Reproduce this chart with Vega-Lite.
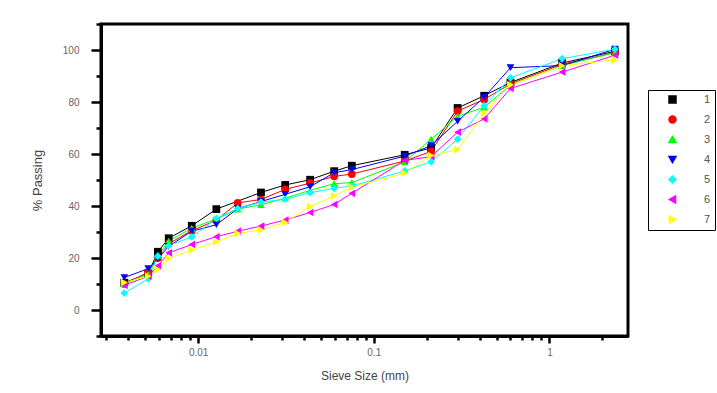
{
  "$schema": "https://vega.github.io/schema/vega-lite/v6.json",
  "width": 527,
  "height": 312,
  "autosize": {"type": "none"},
  "padding": {"left": 101, "top": 24, "right": 89, "bottom": 57},
  "background": "white",
  "config": {
    "view": {"stroke": "black", "strokeWidth": 3},
    "font": "Liberation Sans"
  },
  "data": {
    "values": [
      {"s": "1", "x": 0.0038, "y": 10.5}, {"s": "1", "x": 0.0052, "y": 14}, {"s": "1", "x": 0.0059, "y": 22.4}, {"s": "1", "x": 0.0068, "y": 27.6}, {"s": "1", "x": 0.0092, "y": 32.4}, {"s": "1", "x": 0.0127, "y": 38.8}, {"s": "1", "x": 0.0228, "y": 45.2}, {"s": "1", "x": 0.0313, "y": 48.1}, {"s": "1", "x": 0.0434, "y": 50.1}, {"s": "1", "x": 0.0595, "y": 53.4}, {"s": "1", "x": 0.075, "y": 55.5}, {"s": "1", "x": 0.15, "y": 59.7}, {"s": "1", "x": 0.212, "y": 62.3}, {"s": "1", "x": 0.3, "y": 77.7}, {"s": "1", "x": 0.425, "y": 82.4}, {"s": "1", "x": 0.6, "y": 87.5}, {"s": "1", "x": 1.18, "y": 95}, {"s": "1", "x": 2.36, "y": 99.5},
      {"s": "2", "x": 0.0038, "y": 10}, {"s": "2", "x": 0.0052, "y": 14.5}, {"s": "2", "x": 0.0059, "y": 20}, {"s": "2", "x": 0.0068, "y": 25.5}, {"s": "2", "x": 0.0092, "y": 30.5}, {"s": "2", "x": 0.0127, "y": 34.5}, {"s": "2", "x": 0.0168, "y": 41.2}, {"s": "2", "x": 0.0228, "y": 42.5}, {"s": "2", "x": 0.0313, "y": 46.4}, {"s": "2", "x": 0.0434, "y": 48.8}, {"s": "2", "x": 0.0595, "y": 51.4}, {"s": "2", "x": 0.075, "y": 52.3}, {"s": "2", "x": 0.15, "y": 57.3}, {"s": "2", "x": 0.212, "y": 61}, {"s": "2", "x": 0.3, "y": 76.5}, {"s": "2", "x": 0.425, "y": 81}, {"s": "2", "x": 0.6, "y": 87}, {"s": "2", "x": 1.18, "y": 94.5}, {"s": "2", "x": 2.36, "y": 99},
      {"s": "3", "x": 0.0038, "y": 10}, {"s": "3", "x": 0.0052, "y": 14}, {"s": "3", "x": 0.0059, "y": 21}, {"s": "3", "x": 0.0068, "y": 26.5}, {"s": "3", "x": 0.0092, "y": 31.5}, {"s": "3", "x": 0.0127, "y": 35}, {"s": "3", "x": 0.0168, "y": 38.8}, {"s": "3", "x": 0.0228, "y": 40.5}, {"s": "3", "x": 0.0313, "y": 43}, {"s": "3", "x": 0.0434, "y": 46}, {"s": "3", "x": 0.0595, "y": 48.6}, {"s": "3", "x": 0.075, "y": 49}, {"s": "3", "x": 0.15, "y": 57}, {"s": "3", "x": 0.212, "y": 65.7}, {"s": "3", "x": 0.3, "y": 74.5}, {"s": "3", "x": 0.425, "y": 78}, {"s": "3", "x": 0.6, "y": 86.5}, {"s": "3", "x": 1.18, "y": 94}, {"s": "3", "x": 2.36, "y": 99},
      {"s": "4", "x": 0.0038, "y": 12.5}, {"s": "4", "x": 0.0052, "y": 15.9}, {"s": "4", "x": 0.0059, "y": 19.7}, {"s": "4", "x": 0.0068, "y": 24.5}, {"s": "4", "x": 0.0092, "y": 30.3}, {"s": "4", "x": 0.0127, "y": 32.8}, {"s": "4", "x": 0.0168, "y": 39}, {"s": "4", "x": 0.0228, "y": 41.7}, {"s": "4", "x": 0.0313, "y": 44.5}, {"s": "4", "x": 0.0434, "y": 47.4}, {"s": "4", "x": 0.0595, "y": 52.8}, {"s": "4", "x": 0.075, "y": 54}, {"s": "4", "x": 0.15, "y": 59.2}, {"s": "4", "x": 0.212, "y": 63.2}, {"s": "4", "x": 0.3, "y": 72.6}, {"s": "4", "x": 0.425, "y": 81.8}, {"s": "4", "x": 0.6, "y": 93.2}, {"s": "4", "x": 1.18, "y": 94}, {"s": "4", "x": 2.36, "y": 100.3},
      {"s": "5", "x": 0.0038, "y": 6.5}, {"s": "5", "x": 0.0052, "y": 12}, {"s": "5", "x": 0.0059, "y": 20.7}, {"s": "5", "x": 0.0068, "y": 24.8}, {"s": "5", "x": 0.0092, "y": 28.1}, {"s": "5", "x": 0.0127, "y": 35.2}, {"s": "5", "x": 0.0168, "y": 39}, {"s": "5", "x": 0.0228, "y": 41.5}, {"s": "5", "x": 0.0313, "y": 42.6}, {"s": "5", "x": 0.0434, "y": 45.1}, {"s": "5", "x": 0.0595, "y": 46.8}, {"s": "5", "x": 0.075, "y": 47.7}, {"s": "5", "x": 0.15, "y": 53.5}, {"s": "5", "x": 0.212, "y": 57}, {"s": "5", "x": 0.3, "y": 65.7}, {"s": "5", "x": 0.425, "y": 78.6}, {"s": "5", "x": 0.6, "y": 89.3}, {"s": "5", "x": 1.18, "y": 96.7}, {"s": "5", "x": 2.36, "y": 100.3},
      {"s": "6", "x": 0.0038, "y": 9.5}, {"s": "6", "x": 0.0052, "y": 13}, {"s": "6", "x": 0.0059, "y": 17}, {"s": "6", "x": 0.0068, "y": 22}, {"s": "6", "x": 0.0092, "y": 25.2}, {"s": "6", "x": 0.0127, "y": 28.2}, {"s": "6", "x": 0.0168, "y": 30.3}, {"s": "6", "x": 0.0228, "y": 32.3}, {"s": "6", "x": 0.0313, "y": 34.6}, {"s": "6", "x": 0.0434, "y": 37.5}, {"s": "6", "x": 0.0595, "y": 40.6}, {"s": "6", "x": 0.075, "y": 44.9}, {"s": "6", "x": 0.15, "y": 57.5}, {"s": "6", "x": 0.212, "y": 59}, {"s": "6", "x": 0.3, "y": 68.4}, {"s": "6", "x": 0.425, "y": 73.5}, {"s": "6", "x": 0.6, "y": 85.2}, {"s": "6", "x": 1.18, "y": 91.5}, {"s": "6", "x": 2.36, "y": 98},
      {"s": "7", "x": 0.0038, "y": 10.6}, {"s": "7", "x": 0.0052, "y": 13}, {"s": "7", "x": 0.0059, "y": 15.6}, {"s": "7", "x": 0.0068, "y": 19.8}, {"s": "7", "x": 0.0092, "y": 23.1}, {"s": "7", "x": 0.0127, "y": 26.2}, {"s": "7", "x": 0.0168, "y": 29.5}, {"s": "7", "x": 0.0228, "y": 30.8}, {"s": "7", "x": 0.0313, "y": 33.7}, {"s": "7", "x": 0.0434, "y": 39.8}, {"s": "7", "x": 0.0595, "y": 43.9}, {"s": "7", "x": 0.075, "y": 47.3}, {"s": "7", "x": 0.15, "y": 52.6}, {"s": "7", "x": 0.212, "y": 59.4}, {"s": "7", "x": 0.3, "y": 61.7}, {"s": "7", "x": 0.425, "y": 75.6}, {"s": "7", "x": 0.6, "y": 86.6}, {"s": "7", "x": 1.18, "y": 93.9}, {"s": "7", "x": 2.36, "y": 96.2}
    ]
  },
  "encoding": {
    "x": {
      "field": "x", "type": "quantitative",
      "scale": {"type": "log", "domain": [0.0028, 2.8], "nice": false},
      "axis": {
        "title": "Sieve Size (mm)",
        "values": [0.003, 0.004, 0.005, 0.006, 0.007, 0.008, 0.009, 0.01, 0.02, 0.03, 0.04, 0.05, 0.06, 0.07, 0.08, 0.09, 0.1, 0.2, 0.3, 0.4, 0.5, 0.6, 0.7, 0.8, 0.9, 1, 2],
        "labelExpr": "datum.value == 0.01 || datum.value == 0.1 || datum.value == 1 ? format(datum.value, '~g') : ''",
        "grid": false,
        "domainColor": "black", "domainWidth": 3,
        "tickColor": "black", "tickWidth": 2.5,
        "tickSize": {"condition": {"test": "datum.value == 0.01 || datum.value == 0.1 || datum.value == 1", "value": 7}, "value": 4},
        "labelFontSize": 10, "labelColor": "#666", "labelPadding": 4, "labelFlush": false,
        "titleFontSize": 12, "titleFontWeight": "normal", "titleColor": "#444", "titlePadding": 13
      }
    },
    "y": {
      "field": "y", "type": "quantitative",
      "scale": {"domain": [-10, 110], "nice": false, "zero": false},
      "axis": {
        "title": "% Passing",
        "values": [-10, 0, 10, 20, 30, 40, 50, 60, 70, 80, 90, 100, 110],
        "labelExpr": "datum.value >= 0 && datum.value <= 100 && datum.value % 20 == 0 ? datum.label : ''",
        "grid": false,
        "domainColor": "black", "domainWidth": 3,
        "tickColor": "black", "tickWidth": 2.5,
        "tickSize": {"condition": {"test": "datum.value >= 0 && datum.value <= 100 && datum.value % 20 == 0", "value": 10}, "value": 5},
        "labelFontSize": 10, "labelColor": "#666", "labelPadding": 12, "labelFlush": false,
        "titleFontSize": 13, "titleFontWeight": "normal", "titleColor": "#444", "titlePadding": 18
      }
    },
    "color": {
      "field": "s", "type": "nominal",
      "scale": {"domain": ["1", "2", "3", "4", "5", "6", "7"], "range": ["#000000", "#ff0000", "#00ff00", "#0000ff", "#00ffff", "#ff00ff", "#ffff00"]},
      "legend": {
        "title": null, "orient": "none", "legendX": 547, "legendY": 66,
        "strokeColor": "black", "padding": 4,
        "symbolSize": 49, "symbolOffset": 15, "labelOffset": 26, "rowPadding": 7,
        "labelFontSize": 11, "labelColor": "#555"
      }
    }
  },
  "layer": [
    {
      "mark": {"type": "line", "strokeWidth": 1}
    },
    {
      "mark": {"type": "point", "filled": true, "opacity": 1, "size": 60},
      "encoding": {
        "shape": {
          "field": "s", "type": "nominal",
          "scale": {"domain": ["1", "2", "3", "4", "5", "6", "7"], "range": ["square", "circle", "triangle-up", "triangle-down", "diamond", "triangle-left", "triangle-right"]}
        }
      }
    }
  ]
}
